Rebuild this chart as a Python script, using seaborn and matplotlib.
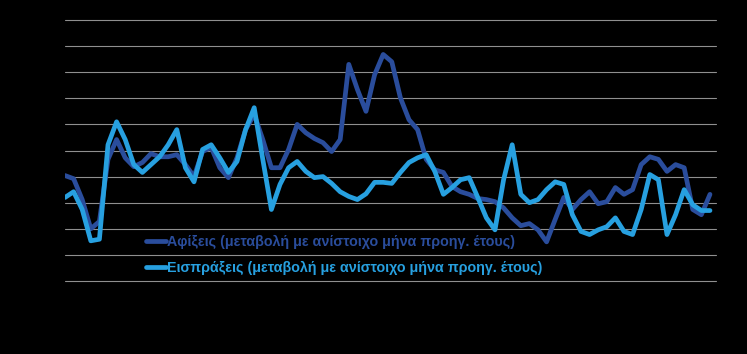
import numpy as np
import pandas as pd
import seaborn as sns
import matplotlib.pyplot as plt

# monthly year-on-year change (%)
arrivals = [0.2, -0.4, -4.4, -10.0, -8.6, 3.3, 7.1, 3.6, 1.9, 2.7,
            4.4, 3.8, 3.8, 4.2, 2.3, 0.0, 4.8, 5.6, 1.7, -0.2,
            3.6, 9.0, 11.9, 7.1, 1.7, 1.7, 5.2, 10.0, 8.4, 7.3,
            6.5, 4.8, 7.1, 21.5, 16.7, 12.5, 19.5, 23.4, 22.0, 15.1,
            10.9, 9.0, 3.3, 1.3, 0.8, -1.9, -2.9, -3.4, -4.2, -4.4,
            -4.8, -6.0, -7.9, -9.4, -9.0, -10.2, -12.5, -8.2, -4.0, -6.3,
            -4.4, -2.9, -5.2, -4.8, -2.1, -3.4, -2.5, 2.3, 3.8, 3.3,
            1.0, 2.3, 1.7, -6.3, -7.3, -3.4]

receipts = [-4.0, -2.9, -6.3, -12.3, -12.0, 6.1, 10.5, 7.1, 2.3, 0.8,
            2.3, 3.8, 6.1, 9.0, 1.7, -1.0, 5.2, 6.1, 3.6, 0.8,
            2.9, 9.0, 13.2, 3.3, -6.3, -1.5, 1.7, 2.9, 1.0, -0.2,
            0.0, -1.3, -2.9, -3.8, -4.4, -3.3, -1.1, -1.1, -1.3, 0.8,
            2.7, 3.6, 4.2, 1.0, -3.4, -2.1, -0.6, -0.2, -4.0, -7.9,
            -10.2, -0.6, 6.1, -3.4, -5.0, -4.4, -2.5, -1.0, -1.5, -7.3,
            -10.5, -11.1, -10.2, -9.6, -7.9, -10.5, -11.1, -6.3, 0.4, -0.6,
            -11.1, -7.3, -2.5, -5.4, -6.5, -6.5]

label_arr = "Αφίξεις (μεταβολή με ανίστοιχο μήνα προηγ. έτους)"
label_rec = "Εισπράξεις (μεταβολή με ανίστοιχο μήνα προηγ. έτους)"
y_ticks = [-20, -15, -10, -5, 0, 5, 10, 15, 20, 25, 30]

months = np.arange(len(arrivals))
df = pd.DataFrame({
    "month": np.concatenate([months, months]),
    "value": arrivals + receipts,
    "series": [label_arr] * len(arrivals) + [label_rec] * len(receipts),
})

sns.set_style("whitegrid", rc={"axes.facecolor": "black",
                               "figure.facecolor": "black",
                               "grid.color": "#8f8f8f",
                               "grid.linewidth": 0.8})
plt.rcParams["font.family"] = ["Liberation Sans", "DejaVu Sans"]

fig = plt.figure(figsize=(7.47, 3.54), dpi=100)
ax = fig.add_axes([65 / 747, 73 / 354, 651 / 747, 261 / 354])

palette = {label_arr: "#2a4d9c", label_rec: "#27a0e0"}
sns.lineplot(data=df, x="month", y="value", hue="series", palette=palette,
             linewidth=3.4, ax=ax, solid_joinstyle="round", solid_capstyle="round")

ax.set_xlim(0, 75.7)
ax.set_ylim(-20, 30)
ax.set_yticks(y_ticks)
ax.grid(axis="x", visible=False)
ax.set_xticks([])
ax.tick_params(axis="y", labelleft=False, length=0)
for gl in ax.get_ygridlines():
    gl.set_clip_on(False)
ax.set_xlabel("")
ax.set_ylabel("")
for s in ax.spines.values():
    s.set_visible(False)

leg = ax.legend(loc="upper left", bbox_to_anchor=(140 / 747, 1 - 229 / 354),
                bbox_transform=fig.transFigure, frameon=False, fontsize=10.25,
                handlelength=1.4, handletextpad=0.1, labelspacing=0.85,
                borderaxespad=0)
for txt, line in zip(leg.get_texts(), leg.get_lines()):
    txt.set_color(line.get_color())
    txt.set_fontweight("bold")
    line.set_linewidth(3.4)

fig.savefig("out.png", dpi=100, facecolor="black")
